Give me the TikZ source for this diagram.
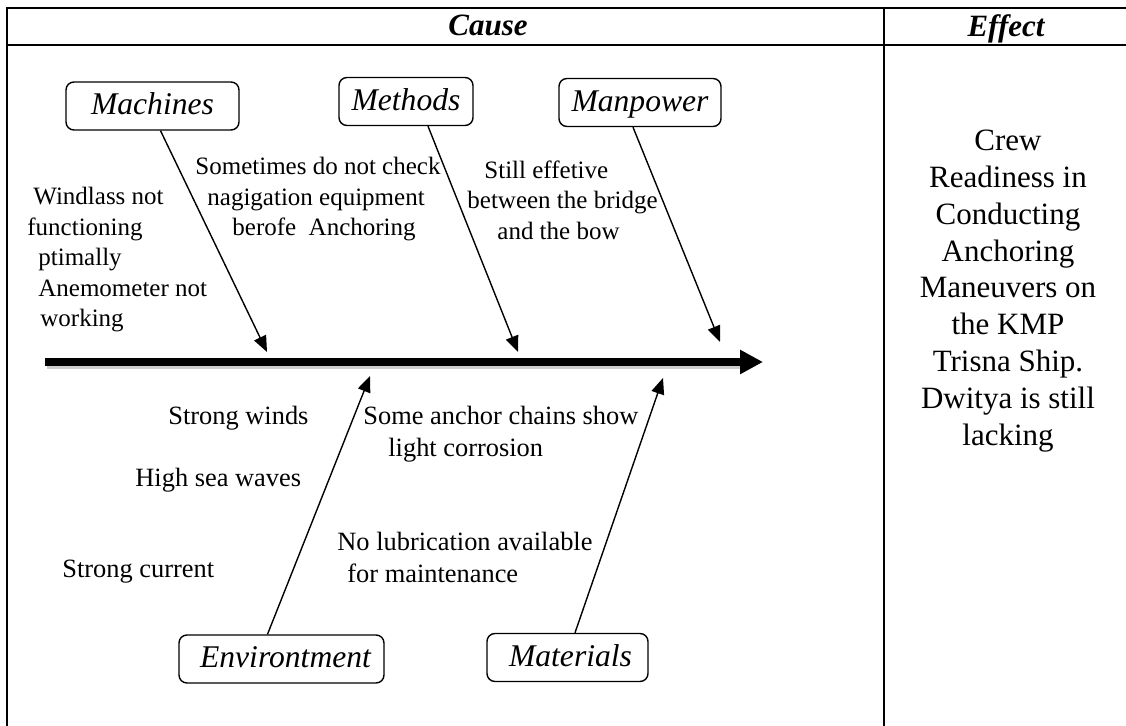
\documentclass[tikz,border=0pt]{standalone}
\usepackage{fontspec}
\setmainfont{Liberation Serif}
\usetikzlibrary{arrows.meta}

\begin{document}
\begin{tikzpicture}[x=0.5pt, y=-0.5pt,
  frameline/.style = {line width=1pt},
  head/.style = {font=\fontsize{15.5}{18}\selectfont\bfseries\itshape},
  cat/.style = {draw, rounded corners=4pt, line width=0.7pt, inner sep=0pt, minimum height=24pt, text height=12pt, text depth=3pt, font=\fontsize{15.8}{18}\selectfont\itshape},
  topnote/.style = {anchor=west, align=left, inner sep=0pt, font=\fontsize{12.5}{15.25}\selectfont},
  lownote/.style = {anchor=west, align=left, inner sep=0pt, font=\fontsize{13.2}{16}\selectfont},
  bone/.style = {line width=0.7pt, -{Triangle[length=8pt,width=6.5pt]}}]
\useasboundingbox (0,0) rectangle (1126,726);
\draw[frameline] (7,726) -- (7,8) -- (1126,8);
\draw[frameline] (7,45) -- (1126,45);
\draw[frameline] (884,8) -- (884,726);
\node[head] (cause) at (488,25) {Cause};
\node[head] (effect) at (1006,29) {Effect};

\coordinate (tail) at (45,362);
\coordinate (spinetip) at (763,362);
\draw[line width=3.8pt, black!20] ([xshift=1pt,yshift=-1.5pt]tail) -- ([xshift=-10pt,yshift=-1.5pt]spinetip);
\draw[line width=3.8pt, -{Triangle[length=11.5pt,width=11.5pt]}] (tail) -- (spinetip);

\node[cat, minimum width=86.5pt] (mach) at (152.5,106) {Machines};
\node[cat, minimum width=67pt] (meth) at (406,101.5) {Methods};
\node[cat, minimum width=81pt] (manp) at (640,102.5) {Manpower};
\node[cat, minimum width=102.5pt] (envi) at (281.5,659) {\hspace*{4pt}Environtment};
\node[cat, minimum width=80.5pt] (mate) at (567.5,657.5) {\hspace*{3pt}Materials};

\coordinate (machtip) at (267,352);
\coordinate (methtip) at (518,352);
\coordinate (manptip) at (720,342);
\coordinate (envitip) at (370,376);
\coordinate (matetip) at (663,378);

\draw[bone] ([xshift=4pt]mach.south) -- (machtip);
\draw[bone] ([xshift=11pt]meth.south) -- (methtip);
\draw[bone] ([xshift=-3.5pt]manp.south) -- (manptip);
\draw[bone] ([xshift=-7pt]envi.north) -- (envitip);
\draw[bone] ([xshift=3.75pt]mate.north) -- (matetip);

\node[topnote] (windlass) at (27,260) {\hspace*{3pt}Windlass not\\functioning\\\hspace*{5.5pt}ptimally\\\hspace*{5.5pt}Anemometer not\\\hspace*{6.5pt}working};
\node[topnote] (check) at (195,199.5) {Sometimes do not check\\\hspace*{6pt}nagigation equipment\\\hspace*{18.5pt}berofe\ \ Anchoring};
\node[topnote] (bridge) at (467,200) {\hspace*{8.5pt}Still effetive\\between the bridge\\\hspace*{15pt}and the bow};

\node[lownote] (winds) at (168,418) {Strong winds};
\node[lownote] (waves) at (135,480) {High sea waves};
\node[lownote] (current) at (62,572) {Strong current};
\node[lownote] (chains) at (363,434) {Some anchor chains show\\\hspace*{12.5pt}light corrosion};
\node[lownote] (lube) at (337,557) {No lubrication available\\\hspace*{5pt}for maintenance};

\node[align=center, inner sep=0pt, font=\fontsize{15.5}{18.4}\selectfont] (result) at (1008,291) {Crew\\Readiness in\\Conducting\\Anchoring\\Maneuvers on\\the KMP\\Trisna Ship.\\Dwitya is still\\lacking};
\end{tikzpicture}
\end{document}
